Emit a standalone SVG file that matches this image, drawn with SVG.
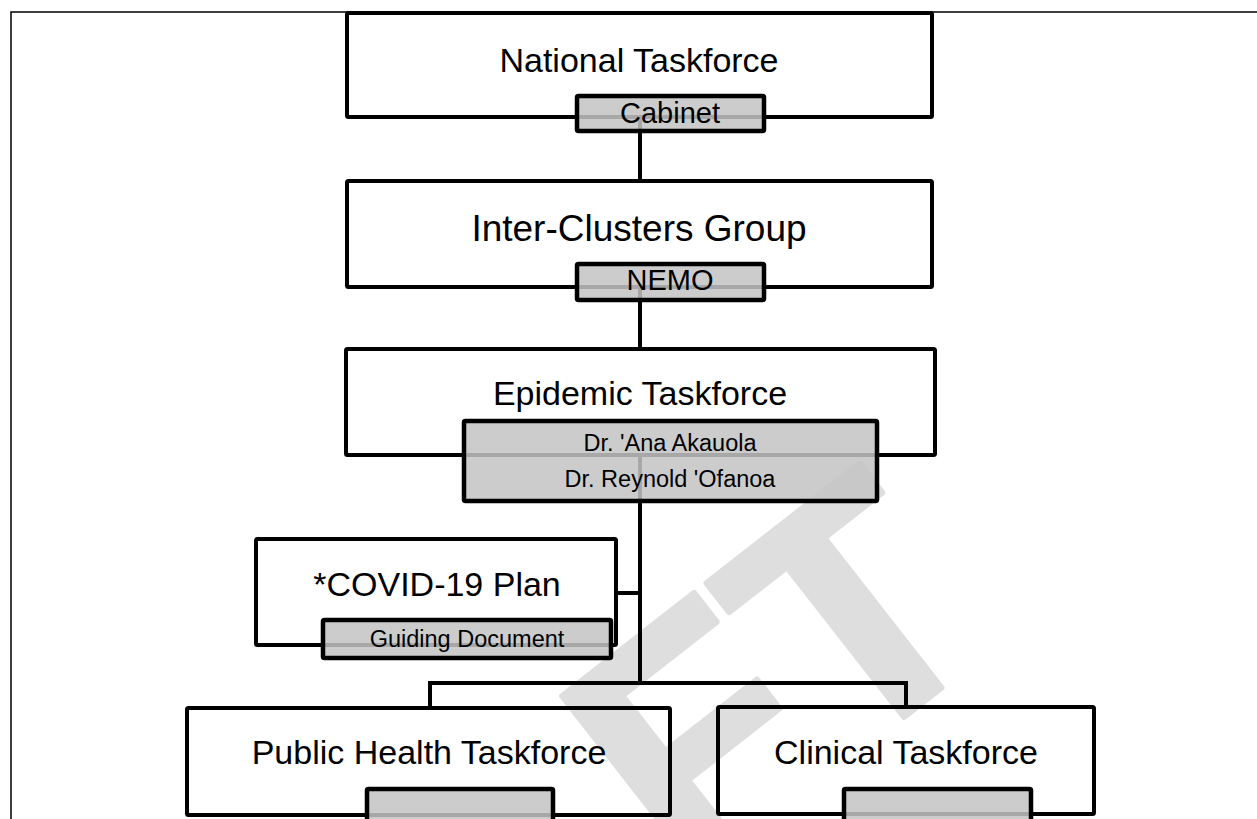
<svg xmlns="http://www.w3.org/2000/svg" width="1257" height="819" viewBox="0 0 1257 819">
  <style>
    .frame { fill: none; stroke: #000; stroke-width: 1.5; }
    .box { fill: none; stroke: #000; stroke-width: 4; }
    .tag { fill: #c4c4c4; fill-opacity: 0.86; stroke: #000; stroke-width: 4.5; }
    .wire { fill: none; stroke: #000; stroke-width: 4; stroke-linejoin: miter; }
    .title { font-family: "Liberation Sans", Arial, sans-serif; font-size: 34px; fill: #000; text-anchor: middle; }
    .big { font-size: 37px; }
    .lbl { font-family: "Liberation Sans", Arial, sans-serif; font-size: 29px; fill: #000; text-anchor: middle; }
    .small { font-size: 23.5px; }
    .mark { font-family: "Liberation Sans", Arial, sans-serif; font-weight: bold; font-size: 330px; fill: #dedede; stroke: #dedede; stroke-width: 6; stroke-linejoin: round; }
  </style>

  <rect width="1257" height="819" fill="#fff"/>

  <!-- background watermark -->
  <g id="watermark">
    <text class="mark" x="0" y="0" transform="translate(-20.7,1439.5) rotate(-38)">DRA<tspan dx="180">F</tspan>T</text>
  </g>

  <!-- page border -->
  <path class="frame" d="M11,819 V12 H1257"/>

  <!-- connectors -->
  <g id="connectors">
    <path class="wire" d="M640,117 V181"/>
    <path class="wire" d="M640,287 V349"/>
    <path class="wire" d="M640,455 V683"/>
    <path class="wire" d="M616,593 H640"/>
    <path class="wire" d="M430,708 V683 H906 V707"/>
  </g>

  <g id="national-taskforce">
    <rect class="box" x="347" y="13" width="585" height="104" rx="1.5"/>
    <text class="title" x="639" y="72">National Taskforce</text>
    <rect class="tag" x="577" y="96" width="187" height="35" rx="1.5"/>
    <text class="lbl" x="670" y="123">Cabinet</text>
  </g>

  <g id="inter-clusters-group">
    <rect class="box" x="347" y="181" width="585" height="106" rx="1.5"/>
    <text class="title big" x="639" y="241">Inter-Clusters Group</text>
    <rect class="tag" x="577" y="264" width="187" height="36" rx="1.5"/>
    <text class="lbl" x="670" y="290">NEMO</text>
  </g>

  <g id="epidemic-taskforce">
    <rect class="box" x="346" y="349" width="589" height="106" rx="1.5"/>
    <text class="title" x="640" y="405">Epidemic Taskforce</text>
    <rect class="tag" x="464" y="421" width="413" height="80" rx="1.5"/>
    <text class="lbl small" x="670" y="451">Dr. 'Ana Akauola</text>
    <text class="lbl small" x="670" y="487">Dr. Reynold 'Ofanoa</text>
  </g>

  <g id="covid-plan">
    <rect class="box" x="256" y="539" width="360" height="106" rx="1.5"/>
    <text class="title" x="437" y="596">*COVID-19 Plan</text>
    <rect class="tag" x="323" y="620" width="288" height="38" rx="1.5"/>
    <text class="lbl small" x="467" y="647">Guiding Document</text>
  </g>

  <g id="public-health-taskforce">
    <rect class="box" x="187" y="708" width="483" height="107" rx="1.5"/>
    <text class="title" x="429" y="764">Public Health Taskforce</text>
    <rect class="tag" x="367" y="789" width="186" height="45" rx="1.5"/>
  </g>

  <g id="clinical-taskforce">
    <rect class="box" x="718" y="707" width="376" height="107" rx="1.5"/>
    <text class="title" x="906" y="764">Clinical Taskforce</text>
    <rect class="tag" x="844" y="789" width="187" height="45" rx="1.5"/>
  </g>
</svg>
